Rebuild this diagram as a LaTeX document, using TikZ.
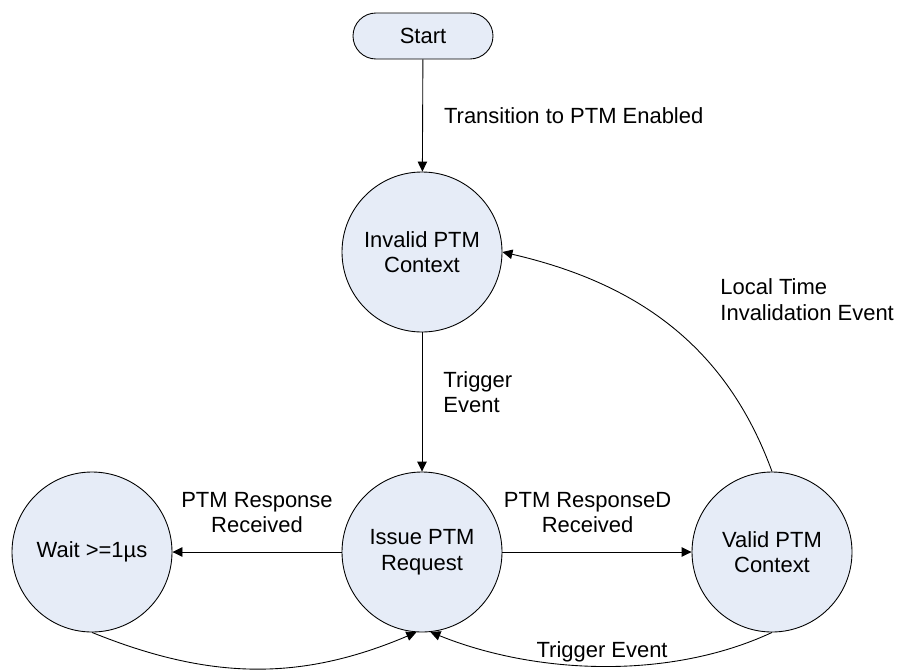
\documentclass[tikz,border=0pt]{standalone}
\usepackage{fontspec}
\setmainfont{Liberation Sans}
\usetikzlibrary{shapes.geometric,arrows.meta,positioning,calc}
\definecolor{statefill}{HTML}{E6ECF7}

\begin{document}
\begin{tikzpicture}[
  state/.style={draw, circle, fill=statefill, minimum size=3.2cm, align=center, inner sep=1pt},
  term/.style={draw, rounded corners=0.46cm, fill=statefill, minimum width=2.8cm, minimum height=0.92cm},
  lbl/.style={align=left, inner sep=2pt},
  every node/.style={font=\fontsize{12.5}{14.5}\selectfont},
  >={Triangle[length=0.2cm,width=0.19cm]},
  line width=0.5pt
]
\useasboundingbox (0,0) rectangle (17.96,-13.42);

\node[term]  (start)   at (8.46,-0.72)  {Start};
\node[state] (invalid) at (8.44,-5.04)  {Invalid PTM\\Context};
\node[state] (issue)   at (8.44,-11.04) {Issue PTM\\Request};
\node[state] (wait)    at (1.84,-11.04) {Wait >=1µs};
\node[state] (valid)   at (15.44,-11.04) {Valid PTM\\Context};

% main spine
\draw[->] (start) -- node[lbl, right, xshift=0.35cm] (lblTrans) {Transition to PTM Enabled} (invalid);
\draw[->] (invalid) -- node[lbl, right, xshift=0.35cm, pos=0.43] (lblTrig) {Trigger\\Event} (issue);

% responses out of the request
\draw[->] (issue) -- node[lbl, above, align=center, yshift=0.3cm] (lblResp) {PTM Response\\Received} (wait);
\draw[->] (issue) -- node[lbl, above, align=center, yshift=0.3cm, pos=0.45] (lblRespD) {PTM ResponseD\\Received} (valid);

% loops back into the request along the bottom
\draw[->] (wait.south) to[out=-22, in=-157] (issue.-94);
\draw[->] (valid.south) to[out=-155, in=-22, looseness=0.85] node[lbl, above, pos=0.5] (lblTrigB) {Trigger Event} (issue.-84);

% invalidation back to the top state
\draw[->] (valid.north) to[out=110, in=-13] (invalid.east);
\node[lbl, anchor=west] (lblLocal) at (14.33,-5.99) {Local Time\\Invalidation Event};
\end{tikzpicture}
\end{document}
